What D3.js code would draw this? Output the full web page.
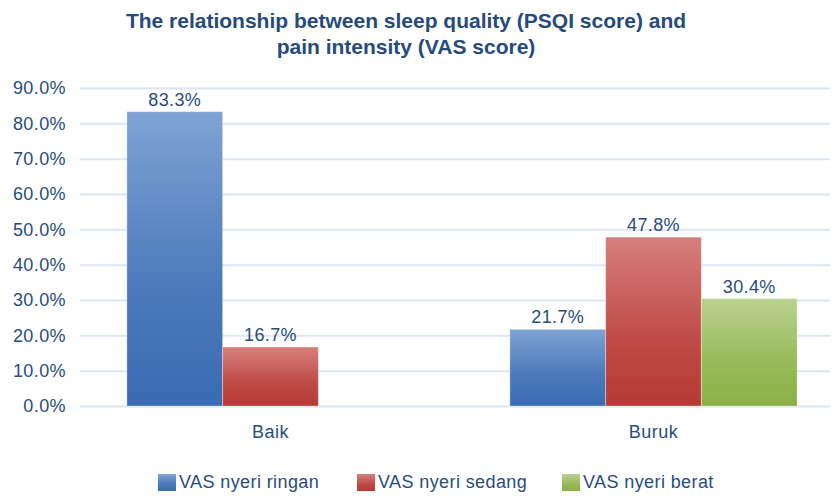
<!DOCTYPE html>
<html lang="en">
<head>
<meta charset="utf-8">
<style>
	body { margin: 0; background: #fff; }
	text { font-family: "Liberation Sans", Arial, sans-serif; }
</style>
</head>
<body>
<script src="https://cdnjs.cloudflare.com/ajax/libs/d3/7.8.5/d3.min.js"></script>
<script>
// data
var categories = ["Baik", "Buruk"];
var seriesNames = ["VAS nyeri ringan", "VAS nyeri sedang", "VAS nyeri berat"];
var ringan = [83.3, 21.7];
var sedang = [16.7, 47.8];
var berat = [null, 30.4];
var yTicks = [0, 10, 20, 30, 40, 50, 60, 70, 80, 90];
var titleLines = ["The relationship between sleep quality (PSQI score) and", "pain intensity (VAS score)"];

var colors = [
	{top: "#7fa3d3", bottom: "#3a6bb3"},
	{top: "#d67f7c", bottom: "#b73935"},
	{top: "#bad28f", bottom: "#8cb046"}
];

var width = 832, height = 496;
var textCol = "#274d80";

var svg = d3.select("body").append("svg")
	.attr("width", width)
	.attr("height", height);

var defs = svg.append("defs");
colors.forEach(function (c, i) {
	var g = defs.append("linearGradient")
		.attr("id", "grad" + i)
		.attr("x1", 0).attr("y1", 0).attr("x2", 0).attr("y2", 1);
	g.append("stop").attr("offset", "0%").attr("stop-color", c.top);
	g.append("stop").attr("offset", "60%").attr("stop-color", d3.interpolateRgb(c.top, c.bottom)(0.75));
	g.append("stop").attr("offset", "100%").attr("stop-color", c.bottom);
});

var x0 = d3.scaleBand()
	.domain(categories)
	.range([79, 845])
	.paddingInner(0.25)
	.paddingOuter(0.125);

var x1 = d3.scaleBand()
	.domain(seriesNames)
	.range([0, x0.bandwidth()]);

var y = d3.scaleLinear()
	.domain([0, 90])
	.range([406, 88]);

// title
svg.append("g").selectAll("text")
	.data(titleLines)
	.enter().append("text")
	.attr("x", 406)
	.attr("y", function (d, i) { return 28 + i * 26; })
	.attr("text-anchor", "middle")
	.style("font-size", "21px")
	.style("font-weight", "bold")
	.style("fill", "#254a7e")
	.text(function (d) { return d; });

// grid + y labels
var yAxis = d3.axisLeft(y)
	.tickValues(yTicks)
	.tickSize(-(830 - 80))
	.tickPadding(14)
	.tickFormat(function (d) { return d.toFixed(1) + "%"; });

var gy = svg.append("g")
	.attr("transform", "translate(80,0)")
	.call(yAxis);
gy.select(".domain").remove();
gy.selectAll(".tick line")
	.attr("stroke", "#dce6f5")
	.attr("stroke-width", 2);
gy.selectAll(".tick text")
	.style("font-size", "18px")
	.style("letter-spacing", "0.4px")
	.style("fill", textCol);

// bars
var rows = categories.map(function (c, i) {
	return {cat: c, vals: [ringan[i], sedang[i], berat[i]]};
});

var groups = svg.append("g").selectAll("g")
	.data(rows)
	.enter().append("g")
	.attr("transform", function (d) { return "translate(" + x0(d.cat) + ",0)"; });

var bar = groups.selectAll("g")
	.data(function (d) {
		return d.vals.map(function (v, j) { return {name: seriesNames[j], idx: j, value: v}; })
			.filter(function (e) { return e.value != null; });
	})
	.enter().append("g");

bar.append("rect")
	.attr("x", function (d) { return x1(d.name); })
	.attr("y", function (d) { return y(d.value); })
	.attr("width", x1.bandwidth())
	.attr("height", function (d) { return y(0) - y(d.value); })
	.attr("fill", function (d) { return "url(#grad" + d.idx + ")"; })
	.attr("stroke", "rgba(255,255,255,0.35)")
	.attr("stroke-width", 1);

bar.append("text")
	.attr("x", function (d) { return x1(d.name) + x1.bandwidth() / 2; })
	.attr("y", function (d) { return y(d.value) - 6; })
	.attr("text-anchor", "middle")
	.style("font-size", "18px")
	.style("letter-spacing", "0.4px")
	.style("fill", textCol)
	.text(function (d) { return d.value.toFixed(1) + "%"; });

// x labels
svg.append("g").selectAll("text")
	.data(categories)
	.enter().append("text")
	.attr("x", function (d) { return x0(d) + x0.bandwidth() / 2; })
	.attr("y", 438)
	.attr("text-anchor", "middle")
	.style("font-size", "18px")
	.style("letter-spacing", "0.5px")
	.style("fill", textCol)
	.text(function (d) { return d; });

// legend
var legendX = [158, 357, 562];
var lg = svg.append("g").selectAll("g")
	.data(seriesNames)
	.enter().append("g")
	.attr("transform", function (d, i) { return "translate(" + legendX[i] + ",474)"; });
lg.append("rect")
	.attr("width", 18)
	.attr("height", 17)
	.attr("fill", function (d, i) { return "url(#grad" + i + ")"; });
lg.append("text")
	.attr("x", 21)
	.attr("y", 14)
	.style("font-size", "18px")
	.style("letter-spacing", "0.4px")
	.style("fill", textCol)
	.text(function (d) { return d; });
</script>
</body>
</html>
